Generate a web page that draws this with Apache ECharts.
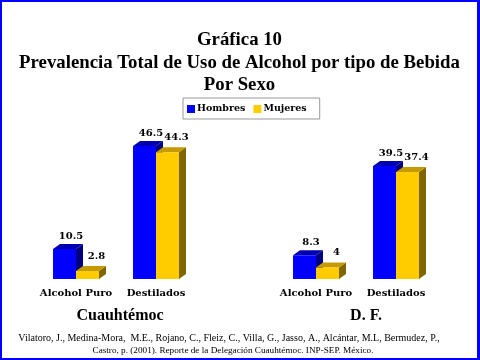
<!DOCTYPE html>
<html>
<head>
<meta charset="utf-8">
<style>
html,body{margin:0;padding:0;background:#fff;}
#c{width:480px;height:360px;box-sizing:border-box;border:2px solid #0000FF;border-right-width:3px;border-bottom-width:2px;}
</style>
<script src="https://cdn.jsdelivr.net/npm/echarts@6/dist/echarts.min.js"></script>
</head>
<body>
<div id="c"></div>
<script>
var categories = ['Alcohol Puro', 'Destilados', '', 'Alcohol Puro', 'Destilados'];
var groups = ['Cuauhtémoc', 'D. F.'];
var seriesNames = ['Hombres', 'Mujeres'];
var hombres = [[0, 10.5], [1, 46.5], [3, 8.3], [4, 39.5]];
var mujeres = [[0, 2.8], [1, 44.3], [3, 4], [4, 37.4]];
var titleLines = ['Gráfica 10', 'Prevalencia Total de Uso de Alcohol por tipo de Bebida', 'Por Sexo'];
var footLines = [
  'Vilatoro, J., Medina-Mora,  M.E., Rojano, C., Fleiz, C., Villa, G., Jasso, A., Alcántar, M.L, Bermudez, P.,',
  'Castro, p. (2001). Reporte de la Delegación Cuauhtémoc. INP-SEP. México.'
];

var palette = [
  {front: '#0000FF', side: '#000080', top: '#0000B0'},
  {front: '#FFCC00', side: '#806600', top: '#C49A00'}
];
var BAR_W = 23, DX = 7, DY = 5;
var LABEL_DX = [6.5, 9];
var LABEL_DY = [8, 10];

function makeRender(si) {
  return function (params, api) {
    var cat = api.value(0), val = api.value(1);
    var p = api.coord([cat, val]);
    var b = api.coord([cat, 0]);
    var x0 = p[0] + (si === 0 ? -BAR_W : 0);
    var x1 = x0 + BAR_W;
    var t = p[1], bt = b[1];
    var c = palette[si];
    return {
      type: 'group',
      children: [
        {type: 'polygon', shape: {points: [[x1, t], [x1 + DX, t - DY], [x1 + DX, bt - DY], [x1, bt]]}, style: {fill: c.side}},
        {type: 'polygon', shape: {points: [[x0, t], [x0 + DX, t - DY], [x1 + DX, t - DY], [x1, t]]}, style: {fill: c.top}},
        {type: 'rect', shape: {x: x0, y: t, width: BAR_W, height: bt - t}, style: {fill: c.front}},
        {type: 'text', x: (x0 + x1) / 2 + LABEL_DX[si], y: t - LABEL_DY[si],
         style: {text: String(val), fill: '#000', font: 'bold 10px "DejaVu Serif"', align: 'center', verticalAlign: 'bottom'}}
      ]
    };
  };
}

var chart = echarts.init(document.getElementById('c'), null, {renderer: 'canvas'});
var graphics = [];
titleLines.forEach(function (s, i) {
  graphics.push({type: 'text', left: 'center', top: 29 + i * 22.5,
    style: {text: s, fill: '#000', font: 'bold 18.8px "Liberation Serif"'}});
});
graphics.push({type: 'text', x: 118, y: 314, style: {text: groups[0], fill: '#000', font: 'bold 16px "Liberation Serif"', align: 'center', verticalAlign: 'middle'}});
graphics.push({type: 'text', x: 364, y: 314, style: {text: groups[1], fill: '#000', font: 'bold 16px "Liberation Serif"', align: 'center', verticalAlign: 'middle'}});
var footFont = ['10px "Liberation Serif"', '9.2px "Liberation Serif"'];
var footX = [227, 231];
footLines.forEach(function (s, i) {
  graphics.push({type: 'text', x: footX[i], y: 336 + i * 12.5, style: {text: s, fill: '#000', font: footFont[i], align: 'center', verticalAlign: 'middle'}});
});

chart.setOption({
  animation: false,
  backgroundColor: '#fff',
  legend: {
    left: 181, top: 96,
    padding: [6, 13, 5, 4],
    itemGap: 8, itemWidth: 8, itemHeight: 8,
    borderColor: '#999', borderWidth: 1,
    textStyle: {fontFamily: 'DejaVu Serif', fontWeight: 'bold', fontSize: 9.5, color: '#000', padding: [0, 0, 0, -3]},
    data: [
      {name: seriesNames[0], icon: 'rect', itemStyle: {color: palette[0].front}},
      {name: seriesNames[1], icon: 'rect', itemStyle: {color: palette[1].front}}
    ]
  },
  grid: {left: 34, right: 41, top: 134, bottom: 79},
  xAxis: {
    type: 'category', data: categories,
    axisLine: {show: false}, axisTick: {show: false}, splitLine: {show: false},
    axisLabel: {interval: 0, margin: 9, color: '#000', fontFamily: 'DejaVu Serif', fontWeight: 'bold', fontSize: 10}
  },
  yAxis: {type: 'value', min: 0, max: 50, show: false, splitLine: {show: false}},
  series: [
    {name: seriesNames[0], type: 'custom', data: hombres, renderItem: makeRender(0), itemStyle: {color: palette[0].front}, clip: false},
    {name: seriesNames[1], type: 'custom', data: mujeres, renderItem: makeRender(1), itemStyle: {color: palette[1].front}, clip: false}
  ],
  graphic: graphics
});
</script>
</body>
</html>
